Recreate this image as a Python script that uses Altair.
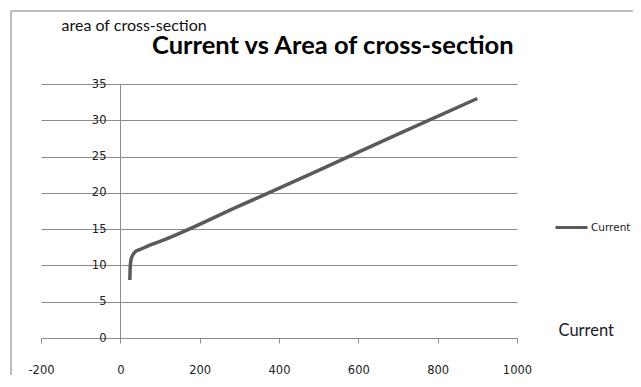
import altair as alt
import pandas as pd

# Data
current = [24, 25, 27, 31, 38, 50, 70, 100, 300, 500, 700, 900]
area = [8.0, 9.9, 10.8, 11.4, 11.9, 12.2, 12.7, 13.3, 18.2, 23.1, 28.1, 33.0]
series = ["Current"] * len(current)

x_ticks = [-200, 0, 200, 400, 600, 800, 1000]
y_ticks = [0, 5, 10, 15, 20, 25, 30, 35]

TITLE = "Current vs Area of cross-section"
Y_TITLE = "area of cross-section"
X_TITLE = "Current"

df = pd.DataFrame({"current": current, "area": area, "series": series})

GRID = "#8c8c8c"
LINE = "#5a5a5a"
FRAME = "#a6a6a6"
TICK_FONT = "DejaVu Sans"

line = alt.Chart(df).mark_line(strokeWidth=3.5, interpolate="monotone").encode(
    x=alt.X(
        "current:Q",
        scale=alt.Scale(domain=[-200, 1000], nice=False, zero=False),
        axis=alt.Axis(
            values=x_ticks, grid=False, domainColor=GRID, tickColor=GRID,
            tickSize=5, labelPadding=21, labelFont=TICK_FONT, labelFontSize=11.5,
            labelColor="#222222", labelExpr="datum.value + ''", labelFlush=False,
            labelOverlap=False,
            title=X_TITLE, titleFont="Lato", titleFontSize=16.5, titleFontWeight="normal",
            titleColor="#1a1a2a", titleAngle=0, titleAlign="left", titleBaseline="middle",
            titleX=517, titleY=-8,
        ),
    ),
    y=alt.Y(
        "area:Q",
        scale=alt.Scale(domain=[0, 35], nice=False),
        axis=alt.Axis(
            values=y_ticks, grid=True, gridColor=GRID, gridWidth=1,
            domainColor=GRID, ticks=False, offset=-79, labelPadding=14,
            labelFont=TICK_FONT, labelFontSize=11.5, labelColor="#222222",
            labelFlush=False, labelOverlap=False,
            title=Y_TITLE, titleFont="Lato", titleFontSize=16, titleFontWeight="normal",
            titleColor="#111111", titleAngle=0, titleAlign="left", titleBaseline="alphabetic",
            titleX=-59, titleY=-54,
        ),
    ),
    color=alt.Color(
        "series:N",
        scale=alt.Scale(domain=["Current"], range=[LINE]),
        legend=alt.Legend(
            title=None, orient="none", legendX=513, legendY=126, padding=0,
            symbolType="stroke", symbolSize=1024, symbolStrokeWidth=3,
            labelFont=TICK_FONT, labelFontSize=10.5, labelColor="#222222", labelOffset=2,
        ),
    ),
)

title = alt.Chart(pd.DataFrame({"t": [TITLE]})).mark_text(
    align="left", baseline="alphabetic", font="Lato", fontSize=25.5, fontWeight="bold",
    color="#000000",
).encode(text="t:N", x=alt.value(111), y=alt.value(-30))

one = pd.DataFrame({"f": [0]})
frame_top = alt.Chart(one).mark_rule(color=FRAME, strokeWidth=1.5).encode(
    x=alt.value(-30), x2=alt.value(700), y=alt.value(-73), y2=alt.value(-73)
)
frame_left = alt.Chart(one).mark_rule(color=FRAME, strokeWidth=1.5).encode(
    x=alt.value(-30), x2=alt.value(-30), y=alt.value(-73), y2=alt.value(400)
)

chart = alt.layer(frame_top, frame_left, line, title).properties(
    width=476, height=254,
    background="white",
    autosize=alt.AutoSizeParams(type="none"),
    padding={"left": 33, "top": 76, "right": 116, "bottom": 37},
).configure_view(stroke="#ffffff", strokeOpacity=0, strokeWidth=0)

chart.save("out.html", embed_options={"renderer": "svg", "actions": False})
